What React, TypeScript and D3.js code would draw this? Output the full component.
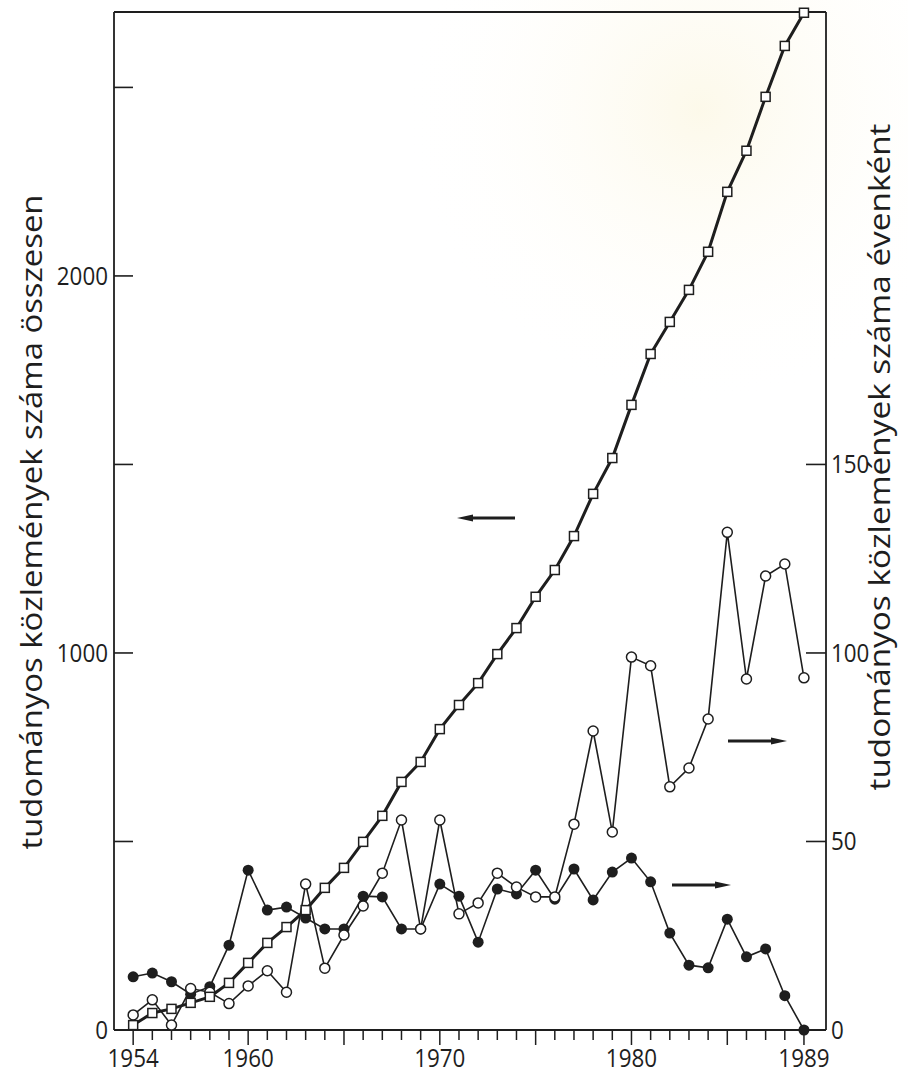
import React from "react";
import * as d3 from "d3";

const years: number[] = d3.range(1954, 1990);

// cumulative number of publications (left axis)
const cumulative: number[] = [
  13, 45, 56, 72, 88, 125, 178, 231, 273, 318, 377, 430, 499, 568, 658, 711, 798,
  862, 920, 997, 1066, 1149, 1220, 1310, 1422, 1517, 1658, 1793, 1878, 1963, 2064,
  2223, 2332, 2475, 2610, 2698,
];

// yearly publications, series A (open circles, right axis)
const yearlyOpen: number[] = [
  4, 8, 1.3, 11, 10, 7, 11.7, 15.7, 10, 38.7, 16.4, 25.2, 32.9, 41.6, 55.7, 26.8, 55.7,
  30.8, 33.7, 41.6, 37.9, 35.3, 35.3, 54.6, 79.3, 52.5, 98.9, 96.6, 64.5, 69.5, 82.5,
  132, 93.1, 120.4, 123.6, 93.4,
];

// yearly publications, series B (filled dots, right axis)
const yearlyFilled: number[] = [
  14.1, 15.1, 12.8, 9.5, 11.5, 22.5, 42.4, 31.8, 32.6, 29.7, 26.8, 26.8, 35.5, 35.3,
  26.8, 26.8, 38.7, 35.5, 23.3, 37.4, 36.1, 42.4, 34.7, 42.7, 34.5, 41.9, 45.6, 39.3,
  25.7, 17.2, 16.5, 29.4, 19.4, 21.5, 9.1, 0,
];

const xLabels: number[] = [1954, 1960, 1970, 1980, 1989];
const xMajor: number[] = [1954, 1960, 1965, 1970, 1975, 1980, 1985, 1989];
const leftTicks: number[] = [0, 500, 1000, 1500, 2000, 2500];
const leftLabels: number[] = [0, 1000, 2000];
const rightTicks: number[] = [0, 50, 100, 150];

const leftTitle = "tudományos közlemények száma összesen";
const rightTitle = "tudományos közlemények száma évenként";

export default function App() {
  const W = 908;
  const H = 1077;
  const x0 = 114;
  const x1 = 826;
  const yTop = 12;
  const yBot = 1030;
  const ink = "#1e1e1e";
  const font = "'Open Sans', 'DejaVu Sans', sans-serif";

  const x = d3.scaleLinear().domain([1953.0, 1990.15]).range([x0, x1]);
  const yL = d3.scaleLinear().domain([0, 2700]).range([yBot, yTop]);
  const yR = d3.scaleLinear().domain([0, 270]).range([yBot, yTop]);

  const lineL = d3.line<number>().x((_, i) => x(years[i])).y((d) => yL(d));
  const lineR = d3.line<number>().x((_, i) => x(years[i])).y((d) => yR(d));

  const arrow = (xa: number, xb: number, y: number, key: string) => {
    const dir = Math.sign(xb - xa);
    const hl = 16;
    return (
      <g key={key}>
        <line x1={xa} y1={y} x2={xb - dir * hl} y2={y} stroke={ink} strokeWidth={3} />
        <path
          d={`M${xb},${y} L${xb - dir * hl},${y - 3.5} L${xb - dir * hl},${y + 3.5} Z`}
          fill={ink}
        />
      </g>
    );
  };

  const tickText = (key: string, tx: number, ty: number, anchor: string, label: string) => (
    <text
      key={key}
      x={tx}
      y={ty}
      textAnchor={anchor as any}
      fontFamily={font}
      fontSize={25}
      textLength={label.length * 12.8}
      lengthAdjust="spacingAndGlyphs"
      fill={ink}
    >
      {label}
    </text>
  );

  return (
    <div style={{ position: "absolute", left: 0, top: 0, width: W, height: H, background: "#fff" }}>
      <svg width={W} height={H} viewBox={`0 0 ${W} ${H}`} style={{ display: "block" }}>
        <defs>
          <radialGradient id="tint" cx="700" cy="110" r="300" gradientUnits="userSpaceOnUse">
            <stop offset="0%" stopColor="#fbf5dc" stopOpacity={0.6} />
            <stop offset="100%" stopColor="#ffffff" stopOpacity={0} />
          </radialGradient>
        </defs>
        <rect x={0} y={0} width={W} height={H} fill="#fff" />
        <rect x={400} y={0} width={508} height={450} fill="url(#tint)" />

        {/* frame */}
        <line x1={x0} y1={yTop} x2={x0} y2={yBot} stroke={ink} strokeWidth={1.8} />
        <line x1={x1} y1={yTop} x2={x1} y2={yBot} stroke={ink} strokeWidth={1.8} />
        <line x1={x0} y1={yTop} x2={x1} y2={yTop} stroke={ink} strokeWidth={1.8} />
        <line x1={x0} y1={yBot} x2={x1} y2={yBot} stroke={ink} strokeWidth={1.8} />

        {/* left ticks */}
        {leftTicks.map((t) => (
          <line key={"lt" + t} x1={x0} x2={x0 + 19} y1={yL(t)} y2={yL(t)} stroke={ink} strokeWidth={1.6} />
        ))}
        {leftLabels.map((t) => tickText("ll" + t, x0 - 6, yL(t) + 9, "end", String(t)))}

        {/* right ticks */}
        {rightTicks.map((t) => (
          <line key={"rt" + t} x1={x1 - 20} x2={x1} y1={yR(t)} y2={yR(t)} stroke={ink} strokeWidth={1.6} />
        ))}
        {rightTicks.map((t) => tickText("rl" + t, x1 + 5, yR(t) + 9, "start", String(t)))}

        {/* bottom ticks */}
        {years.map((yr) => (
          <line
            key={"bt" + yr}
            x1={x(yr)}
            x2={x(yr)}
            y1={yBot}
            y2={yBot + (xMajor.includes(yr) ? 15 : 10)}
            stroke={ink}
            strokeWidth={1.5}
          />
        ))}
        {xLabels.map((yr) => tickText("bl" + yr, x(yr), 1067, "middle", String(yr)))}

        {/* axis titles */}
        <text
          transform={`translate(42, 522) rotate(-90)`}
          textAnchor="middle"
          fontFamily={font}
          fontSize={30}
          textLength={655}
          lengthAdjust="spacingAndGlyphs"
          fill={ink}
        >
          {leftTitle}
        </text>
        <text
          transform={`translate(890, 457) rotate(-90)`}
          textAnchor="middle"
          fontFamily={font}
          fontSize={29}
          textLength={667}
          lengthAdjust="spacingAndGlyphs"
          fill={ink}
        >
          {rightTitle}
        </text>

        {/* yearly lines */}
        <path d={lineR(yearlyFilled) || ""} fill="none" stroke={ink} strokeWidth={1.6} />
        <path d={lineR(yearlyOpen) || ""} fill="none" stroke={ink} strokeWidth={1.6} />

        {/* cumulative line */}
        <path d={lineL(cumulative) || ""} fill="none" stroke={ink} strokeWidth={3} />

        {yearlyFilled.map((v, i) => (
          <circle key={"f" + i} cx={x(years[i])} cy={yR(v)} r={5.5} fill={ink} />
        ))}
        {yearlyOpen.map((v, i) => (
          <circle key={"o" + i} cx={x(years[i])} cy={yR(v)} r={5} fill="#fff" stroke={ink} strokeWidth={1.5} />
        ))}
        {cumulative.map((v, i) => (
          <rect
            key={"s" + i}
            x={x(years[i]) - 4.5}
            y={yL(v) - 4.5}
            width={9}
            height={9}
            fill="#fff"
            stroke={ink}
            strokeWidth={1.5}
          />
        ))}

        {/* arrows */}
        {arrow(515, 457, 518, "a1")}
        {arrow(728, 787, 741, "a2")}
        {arrow(672, 731, 885, "a3")}
      </svg>
    </div>
  );
}
